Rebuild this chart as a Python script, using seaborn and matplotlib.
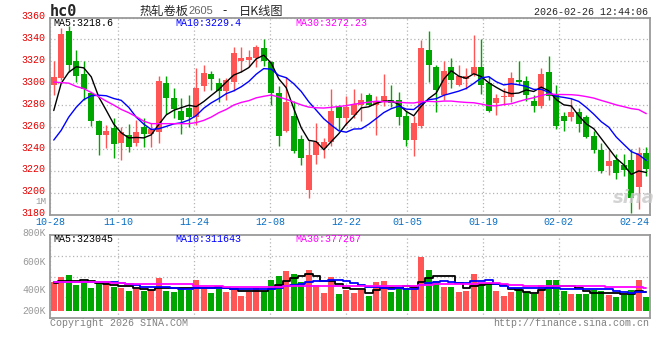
import numpy as np
import pandas as pd
import matplotlib
matplotlib.use("Agg")
import matplotlib.pyplot as plt
import matplotlib.transforms as mtransforms
import seaborn as sns

# daily candles, 10-28 .. 02-26
opens = [3298, 3305, 3348, 3320, 3308, 3291, 3265, 3253, 3259, 3245,
         3253, 3245, 3260, 3254, 3255, 3300, 3286, 3275, 3277, 3269,
         3297, 3308, 3300, 3293, 3301, 3320, 3321, 3323, 3332, 3319,
         3291, 3256, 3270, 3249, 3202, 3234, 3241, 3246, 3278, 3268,
         3271, 3280, 3289, 3280, 3284, 3285, 3285, 3270, 3248, 3261,
         3330, 3315, 3289, 3315, 3298, 3304, 3308, 3315, 3300, 3282,
         3287, 3287, 3303, 3302, 3284, 3279, 3310, 3290, 3270, 3269,
         3274, 3269, 3252, 3239, 3224, 3230, 3225, 3230, 3205, 3236]
highs = [3320, 3350, 3352, 3330, 3320, 3292, 3266, 3262, 3268, 3260,
         3263, 3266, 3268, 3264, 3307, 3307, 3296, 3286, 3289, 3314,
         3317, 3311, 3305, 3305, 3333, 3333, 3330, 3335, 3340, 3320,
         3297, 3306, 3284, 3253, 3248, 3264, 3250, 3295, 3280, 3288,
         3295, 3291, 3291, 3288, 3308, 3298, 3292, 3275, 3270, 3339,
         3348, 3317, 3320, 3323, 3317, 3314, 3344, 3340, 3307, 3290,
         3296, 3310, 3320, 3307, 3289, 3314, 3325, 3298, 3274, 3286,
         3277, 3271, 3256, 3245, 3239, 3235, 3235, 3240, 3242, 3242]
lows = [3289, 3303, 3310, 3301, 3285, 3261, 3234, 3241, 3232, 3230,
        3237, 3243, 3242, 3242, 3245, 3272, 3268, 3254, 3260, 3262,
        3293, 3294, 3283, 3285, 3293, 3310, 3315, 3315, 3316, 3280,
        3243, 3255, 3236, 3225, 3195, 3226, 3232, 3243, 3257, 3262,
        3268, 3265, 3279, 3253, 3279, 3278, 3262, 3243, 3233, 3259,
        3301, 3274, 3285, 3296, 3297, 3295, 3307, 3290, 3274, 3271,
        3280, 3283, 3298, 3284, 3274, 3277, 3285, 3258, 3256, 3265,
        3255, 3250, 3236, 3218, 3216, 3212, 3215, 3181, 3185, 3215]
closes = [3306, 3345, 3317, 3307, 3295, 3265, 3253, 3256, 3244, 3255,
          3242, 3255, 3254, 3258, 3302, 3286, 3276, 3266, 3269, 3296,
          3309, 3304, 3293, 3303, 3328, 3323, 3324, 3333, 3320, 3291,
          3252, 3283, 3238, 3232, 3234, 3246, 3246, 3275, 3268, 3278,
          3281, 3285, 3280, 3284, 3288, 3282, 3269, 3248, 3264, 3332,
          3317, 3294, 3311, 3303, 3307, 3307, 3315, 3298, 3275, 3286,
          3288, 3305, 3301, 3289, 3279, 3308, 3288, 3261, 3265, 3274,
          3263, 3251, 3239, 3220, 3229, 3218, 3221, 3195, 3236, 3222]
volumes = [497, 582, 611, 439, 485, 394, 468, 468, 411, 394,
           337, 365, 337, 354, 565, 342, 325, 365, 354, 525,
           411, 308, 394, 325, 394, 257, 325, 382, 337, 525,
           599, 685, 628, 491, 696, 439, 308, 582, 285, 354,
           308, 354, 251, 491, 508, 320, 365, 394, 439, 925,
           696, 508, 405, 405, 320, 337, 628, 479, 479, 337,
           251, 320, 382, 320, 285, 439, 525, 525, 337, 285,
           285, 285, 354, 337, 268, 234, 268, 354, 525, 234]

# moving-average values at the left edge (they need days before the window)
ma5_head = [3275, 3300, 3310, 3315]
ma10_head = [3248, 3257, 3269, 3278, 3285, 3288.5, 3289, 3288.5, 3286]
ma30_head = [3301, 3300.5, 3300, 3297, 3295, 3291.5, 3287.6, 3283.6, 3280, 3276,
             3273, 3269.3, 3265.3, 3263, 3263, 3263, 3263, 3263, 3263, 3264,
             3266, 3269, 3273, 3276, 3280, 3282.4, 3284, 3286.6, 3288]
vma5_head = [479, 514, 514, 508]
vma10_head = [491, 491, 491, 491, 491, 491, 491, 491, 491]
vma30_head = [491] * 8 + [468] * 2 + [451] * 9 + [422] * 4 + [400] * 6

tick_idx = [0, 9, 19, 29, 39, 47, 57, 67, 77]
tick_labels = ['10-28', '11-10', '11-24', '12-08', '12-22', '01-05', '01-19', '02-02', '02-24']
price_ticks = [3180, 3200, 3220, 3240, 3260, 3280, 3300, 3320, 3340, 3360]
vol_labels = ['800K', '600K', '400K', '200K']

sns.set_style("white")
plt.rcParams['font.family'] = ['Liberation Mono', 'DejaVu Sans Mono']

RED, GREEN = '#ff5555', '#00a600'
GRID, FRAME = '#b4b4b4', '#9a9a9a'

df = pd.DataFrame({'o': opens, 'h': highs, 'l': lows, 'c': closes,
                   'v': np.array(volumes) * 1000.0})
df['i'] = np.arange(len(df))
df['up'] = df['c'] >= df['o']
n = len(df)


def moving(s, k, head):
    m = s.rolling(k).mean()
    m.iloc[:len(head)] = head
    return m


ma5 = moving(df['c'], 5, ma5_head)
ma10 = moving(df['c'], 10, ma10_head)
ma30 = moving(df['c'], 30, ma30_head)
vma5 = moving(df['v'], 5, np.array(vma5_head) * 1000.0)
vma10 = moving(df['v'], 10, np.array(vma10_head) * 1000.0)
vma30 = moving(df['v'], 30, np.array(vma30_head) * 1000.0)

W, H = 660, 360
fig = plt.figure(figsize=(W / 100, H / 100), dpi=100)


def box(l, t, r, b):
    return [l / W, 1 - b / H, (r - l) / W, (b - t) / H]


def at(x, y):
    return x / W, 1 - y / H


ax = fig.add_axes(box(50, 17.5, 650, 214.5))
axv = fig.add_axes(box(50, 234.7, 650, 318.3))

# candles
cols = np.where(df['up'], RED, GREEN)
ax.vlines(df['i'], df['l'], df['h'], colors=cols, lw=1)
body = (df['c'] - df['o']).abs().clip(lower=0.8)
ax.bar(df['i'], body, bottom=df[['o', 'c']].min(axis=1), width=0.76, color=cols, lw=0)

sns.lineplot(x=df['i'], y=ma5, color='black', lw=1, ax=ax)
sns.lineplot(x=df['i'], y=ma10, color='#0000ff', lw=1, ax=ax)
sns.lineplot(x=df['i'], y=ma30, color='#ff00ff', lw=1, ax=ax)

# volume
sns.barplot(data=df, x='i', y='v', hue='up', palette={True: RED, False: GREEN},
            native_scale=True, dodge=False, width=0.76, saturation=1,
            errorbar=None, legend=False, linewidth=0, ax=axv)
sns.lineplot(x=df['i'], y=vma5, color='black', lw=1.3, drawstyle='steps-mid', ax=axv)
sns.lineplot(x=df['i'], y=vma10, color='#0000ff', lw=1.3, drawstyle='steps-mid', ax=axv)
sns.lineplot(x=df['i'], y=vma30, color='#ff00ff', lw=1.3, drawstyle='steps-mid', ax=axv)

grid_pos = [k * n / (n - 1) - 0.5 for k in tick_idx]

for a in (ax, axv):
    a.set_xlim(-0.5, n - 0.5)
    a.set_xlabel('')
    a.set_ylabel('')
    a.set_xticks(grid_pos)
    a.grid(True, color=GRID, ls=(0, (1, 2)), lw=0.9)
    a.tick_params(length=0)
    for sp in a.spines.values():
        sp.set_visible(True)
        sp.set_color(FRAME)
        sp.set_linewidth(1.3)
    a.get_xgridlines()[-1].set_visible(False)

ax.set_ylim(3180, 3360)
ax.set_yticks(price_ticks)
ax.set_yticklabels([str(p) for p in price_ticks], color='#e60000', fontsize=7.2)
ax.set_xticklabels(tick_labels, color='#0a6fc2', fontsize=7.2)
ax.tick_params(axis='y', pad=3)
ax.tick_params(axis='x', pad=1.5)
# the site draws price labels a little above their grid lines
lift = mtransforms.ScaledTranslation(0, 1.6 / 72, fig.dpi_scale_trans)
for t in ax.get_yticklabels():
    t.set_transform(t.get_transform() + lift)

vlo, vhi = -130e3, 1.301e6
axv.set_ylim(vlo, vhi)
axv.set_yticks(np.linspace(vlo, vhi, 5)[1:-1])
axv.set_yticklabels([])
axv.set_xticklabels([])

# axis texts as drawn by the site
for lab, y in zip(vol_labels, [232.5, 261.7, 290, 310.7]):
    fig.text(*at(46, y), lab, ha='right', va='center', color='#999999', fontsize=7)
fig.text(*at(46, 201.5), '1M', ha='right', va='center', color='#999999', fontsize=6.6)

# header
fig.text(*at(50, 11), 'hc0', ha='left', va='center', fontsize=11,
         fontweight='bold', family='DejaVu Sans Mono')
fig.text(*at(140, 11), '热轧卷板', ha='left', va='center', fontsize=8.8,
         family=['Noto Sans CJK SC', 'DejaVu Sans'])
fig.text(*at(188, 11.5), '2605', ha='left', va='center', fontsize=8,
         color='#666666', family='Liberation Sans')
fig.text(*at(222, 11), '-', ha='left', va='center', fontsize=8.8,
         family=['Noto Sans CJK SC', 'DejaVu Sans'])
fig.text(*at(239, 11), '日K线图', ha='left', va='center', fontsize=8.8,
         family=['Noto Sans CJK SC', 'DejaVu Sans'])
fig.text(*at(648, 12), '2026-02-26 12:44:06', ha='right', va='center', fontsize=7.2)

fig.text(*at(53, 23.5), 'MA5:3218.6', ha='left', va='center', fontsize=7.2, color='black')
fig.text(*at(175, 23.5), 'MA10:3229.4', ha='left', va='center', fontsize=7.2, color='#0000ff')
fig.text(*at(295, 23.5), 'MA30:3272.23', ha='left', va='center', fontsize=7.2, color='#ff00ff')
fig.text(*at(53, 238.5), 'MA5:323045', ha='left', va='center', fontsize=7.2, color='black')
fig.text(*at(175, 238.5), 'MA10:311643', ha='left', va='center', fontsize=7.2, color='#0000ff')
fig.text(*at(295, 238.5), 'MA30:377267', ha='left', va='center', fontsize=7.2, color='#ff00ff')

fig.text(*at(634, 198), 'sina', ha='center', va='center', fontsize=13, style='italic',
         fontweight='bold', color='#c8c8c8', alpha=0.8, family='DejaVu Sans')

fig.text(*at(50, 323.5), 'Copyright 2026 SINA.COM', ha='left', va='center',
         fontsize=7.2, color='#808080')
fig.text(*at(649, 323.5), 'http://finance.sina.com.cn', ha='right', va='center',
         fontsize=7.2, color='#808080')

fig.savefig('out.png', dpi=100, facecolor='white')
